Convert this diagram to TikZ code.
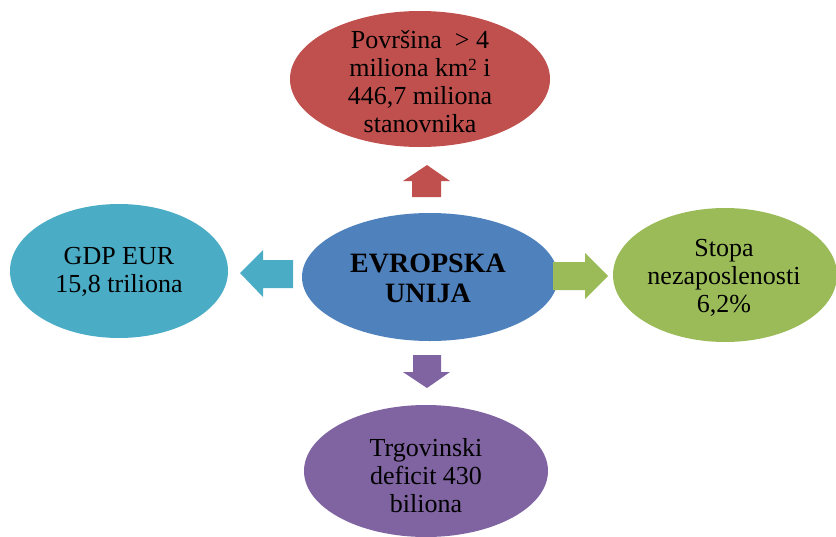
\documentclass[tikz,border=0pt]{standalone}
\usepackage{fontspec}
\setmainfont{Liberation Serif}
\usetikzlibrary{shapes.geometric}
\definecolor{cred}{HTML}{C0504D}
\definecolor{cblue}{HTML}{4F81BD}
\definecolor{cgreen}{HTML}{9BBB59}
\definecolor{cteal}{HTML}{4BACC6}
\definecolor{cpurple}{HTML}{8064A2}
\begin{document}
\begin{tikzpicture}[x=1pt,y=-1pt,
  blob/.style={ellipse, inner sep=0pt, align=center, text=black,
    font=\fontsize{26}{28}\selectfont}]
\useasboundingbox (0,0) rectangle (836,536);
\begin{scope}
\clip (0,0) rectangle (836,536);
\node[blob, fill=cred, minimum width=260pt, minimum height=136pt] (topE) at (420,79) {};
\node[blob, fill=cblue, minimum width=256pt, minimum height=128pt] (euE) at (430,277) {};
\node[blob, fill=cteal, minimum width=218pt, minimum height=134pt] (leftE) at (119,271) {};
\node[blob, fill=cgreen, minimum width=224pt, minimum height=134pt] (rightE) at (725,275) {};
\node[blob, fill=cpurple, minimum width=244pt, minimum height=132pt] (bottomE) at (426,471) {};
\end{scope}
% text nodes
\node[blob] (top) at (420,82) {Površina\ \ > 4\\miliona km{\fontsize{17}{17}\selectfont\raisebox{0.85ex}{2}} i\\446,7 miliona\\stanovnika};
\node[blob, font=\bfseries\fontsize{28}{30}\selectfont] (eu) at (428,278) {EVROPSKA\\UNIJA};
\node[blob] (left) at (119,272) {GDP EUR\\15,8 triliona};
\node[blob] (right) at (724,278) {Stopa\\nezaposlenosti\\6,2\%};
\node[blob] (bottom) at (426,476) {Trgovinski\\deficit 430\\biliona};
% arrows
\fill[cred] (427,165) -- (450,181) -- (441,181) -- (441,197) -- (412,197) -- (412,181) -- (403,181) -- cycle;
\fill[cpurple] (427,388) -- (450,372) -- (441,372) -- (441,355) -- (413,355) -- (413,372) -- (403,372) -- cycle;
\fill[cteal] (240,273) -- (263,250) -- (263,260) -- (293,260) -- (293,288) -- (263,288) -- (263,297) -- cycle;
\fill[cgreen] (608,276) -- (585,253) -- (585,262) -- (553,262) -- (553,290) -- (585,290) -- (585,299) -- cycle;
\end{tikzpicture}
\end{document}
